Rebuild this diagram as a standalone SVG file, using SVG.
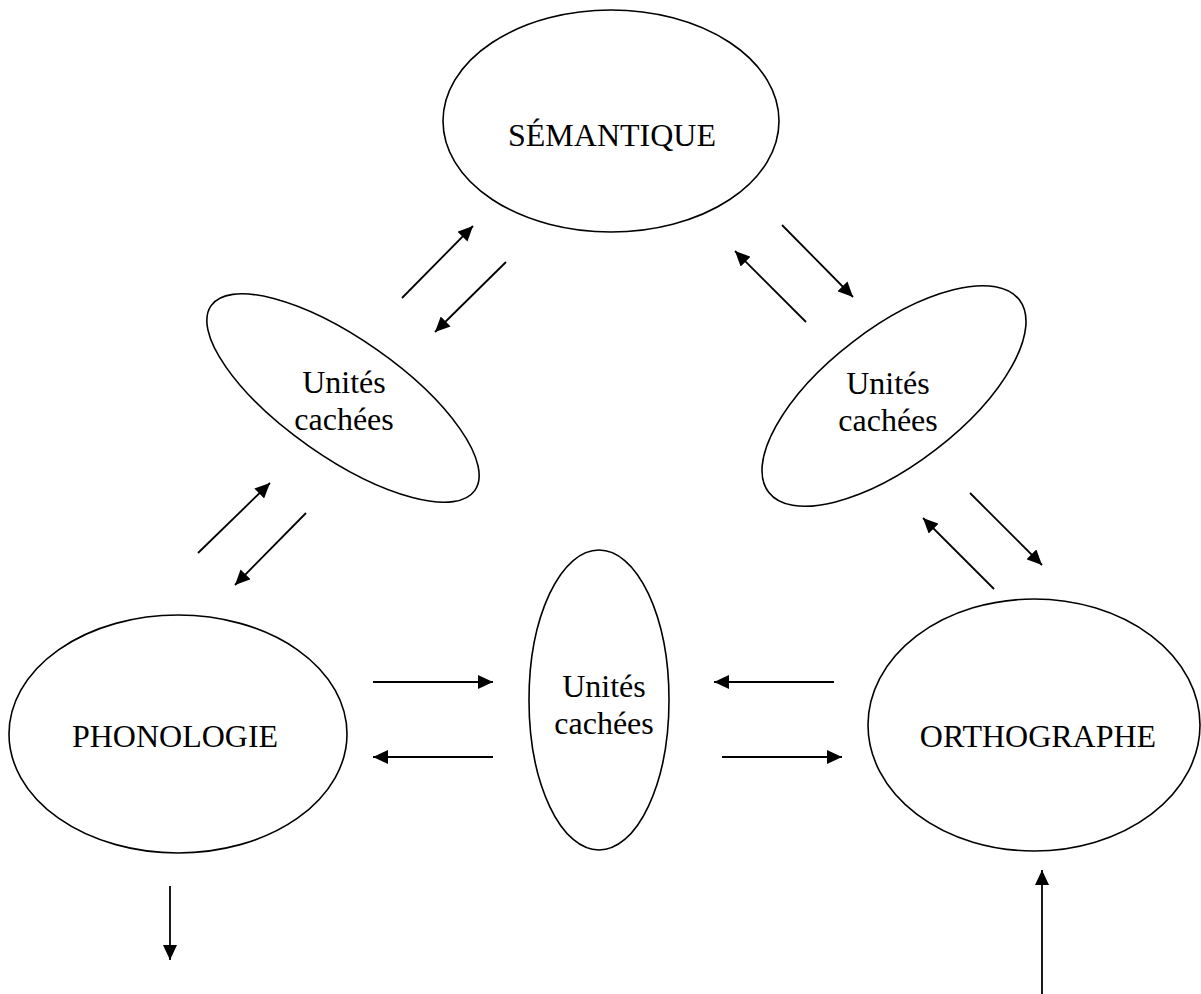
<svg xmlns="http://www.w3.org/2000/svg" width="1201" height="994" viewBox="0 0 1201 994">
<defs>
<style>
.n{fill:#fff;stroke:#000;stroke-width:1.6}
.t{font-family:"Liberation Serif","Times New Roman",serif;font-size:32px;fill:#000;text-anchor:middle}
.c{stroke:#000;stroke-width:1.8;fill:none;marker-end:url(#ah)}
</style>
<marker id="ah" markerUnits="userSpaceOnUse" markerWidth="16" markerHeight="14" refX="15" refY="7" orient="auto">
<path d="M0,0 L15,7 L0,14 z" fill="#000"/>
</marker>
</defs>
<rect width="1201" height="994" fill="#fff"/>
<g id="semantique">
<ellipse class="n" cx="611" cy="121" rx="168" ry="111"/>
<text class="t" x="612" y="146">SÉMANTIQUE</text>
</g>
<g id="cachees-gauche">
<ellipse class="n" cx="343" cy="398" rx="161" ry="59" transform="rotate(35 343 398)"/>
<text class="t" x="344" y="393">Unités</text>
<text class="t" x="344" y="430">cachées</text>
</g>
<g id="cachees-droite">
<ellipse class="n" cx="894" cy="396" rx="158" ry="68" transform="rotate(-37.5 894 396)"/>
<text class="t" x="888" y="394">Unités</text>
<text class="t" x="888" y="431">cachées</text>
</g>
<g id="phonologie">
<ellipse class="n" cx="178" cy="734" rx="169" ry="119"/>
<text class="t" x="175" y="747">PHONOLOGIE</text>
</g>
<g id="cachees-centre">
<ellipse class="n" cx="599" cy="700" rx="70" ry="150"/>
<text class="t" x="604" y="697">Unités</text>
<text class="t" x="604" y="734">cachées</text>
</g>
<g id="orthographe">
<ellipse class="n" cx="1034" cy="725" rx="166" ry="126"/>
<text class="t" x="1038" y="747">ORTHOGRAPHE</text>
</g>
<g id="connecteurs">
<line class="c" x1="402" y1="298" x2="473" y2="226"/>
<line class="c" x1="506" y1="262" x2="435" y2="332"/>
<line class="c" x1="782" y1="225" x2="853" y2="297"/>
<line class="c" x1="806" y1="322" x2="735" y2="251"/>
<line class="c" x1="198" y1="553" x2="270" y2="483"/>
<line class="c" x1="306" y1="513" x2="235" y2="585"/>
<line class="c" x1="994" y1="589" x2="923" y2="518"/>
<line class="c" x1="970" y1="493" x2="1042" y2="565"/>
<line class="c" x1="373" y1="682" x2="493" y2="682"/>
<line class="c" x1="493" y1="757" x2="373" y2="757"/>
<line class="c" x1="834" y1="682" x2="714" y2="682"/>
<line class="c" x1="722" y1="757" x2="842" y2="757"/>
<line class="c" x1="170" y1="886" x2="170" y2="960"/>
<line class="c" x1="1042" y1="994" x2="1042" y2="870"/>
</g>
</svg>
